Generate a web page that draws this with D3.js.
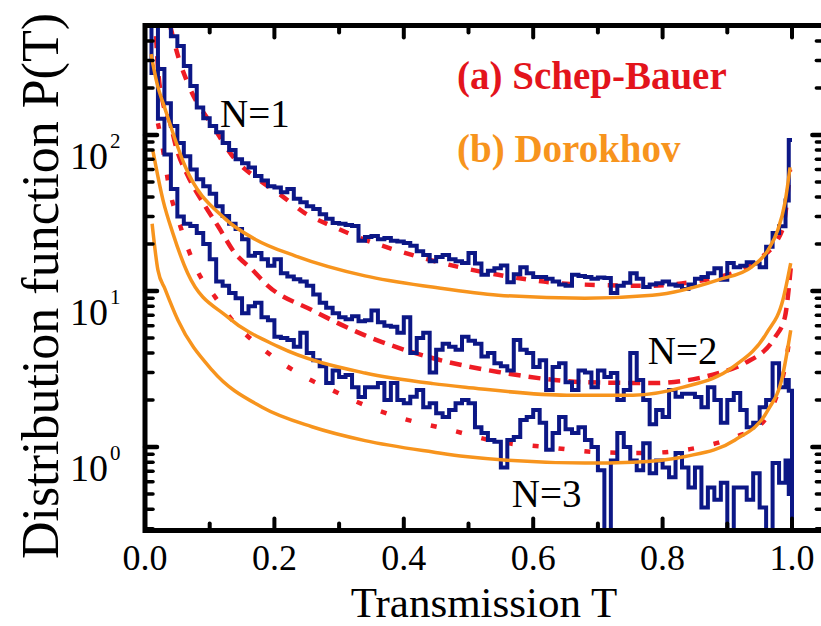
<!DOCTYPE html>
<html><head><meta charset="utf-8">
<script src="https://cdn.jsdelivr.net/npm/d3@7"></script>
<style>html,body{margin:0;padding:0;background:#fff;} svg{display:block;}</style>
</head><body>
<svg id="chart" width="821" height="626"></svg>
<script>
// ---------------- DATA ----------------
// histogram bins: left edges 0.00 .. 0.99 (width 0.01) + a final half bin starting at 0.995
const binStarts = d3.range(100).map(i => +(i / 100).toFixed(2)).concat([0.995]);
const histN1 = [3000,1500,900,600,430,372,277,206,150,128,
  114,104,89,80,70,66,62,54.5,51,47,
  46,43,45,39,37,35,33.6,31,29,27.3,
  27,26.5,26.1,21,22.2,22.5,21.5,21.9,21,20.8,
  20.3,19.5,18,17,15.5,16.5,17,16,15.5,15.1,
  17.5,15,12.7,13.5,14,14.6,11.4,12.8,14.2,13,
  12.3,12.3,12,11.5,11,10.8,12.7,12.5,12.3,12,
  12.2,12.1,9.7,10.8,11.3,13,12,10.6,11,11.2,
  11.5,11,10.8,10.3,11,12,12.3,13,14,11.8,
  15.1,14.2,14.5,15.3,15,14.2,19.2,23.5,26,38,
  93];
const histN2 = [3000,600,265,160,114,89,73,60,52,47,
  42,35,30.3,27,25,21.5,16.8,17.5,16,14.5,
  16,13,12.4,11.9,11.5,10.8,9.5,8.4,7.8,7.2,
  6.8,6.6,6.9,6.4,6.5,7.5,6.3,6.0,5.9,5.4,
  6.8,4.0,5.0,5.4,3.0,4.2,4.6,4.4,4.2,5.1,
  4.8,4.6,3.8,4.0,3.45,3.3,3.1,4.85,4.2,4.0,
  3.26,3.6,2.32,3.26,3.45,2.6,2.32,3.1,3.0,2.42,
  3.1,2.81,2.98,2.0,2.32,4.0,2.69,2.0,1.4,1.73,
  1.56,2.32,2.1,2.2,2.2,2.09,1.8,2.42,2.0,1.43,
  2.0,2.22,1.73,1.34,1.43,1.8,2.0,3.45,2.42,2.69,
  2.3];
const histN3 = [1000,250,127,75,45,30,27,26.1,23.5,20,
  16,11.5,10.8,9.7,9,7.2,8,8.4,6.8,6.5,
  5.1,5.0,4.85,4.4,5.4,4.0,3.6,3.3,2.57,3.1,
  2.81,2.9,2.42,2.09,2.42,2.42,2.57,2.0,2.57,2.0,
  1.91,2.1,2.32,1.8,1.91,1.65,1.56,1.73,1.91,2.0,
  1.91,1.34,1.23,1.11,1.08,0.74,1.11,1.16,1.49,1.56,
  1.73,1.43,0.96,1.23,1.56,1.3,1.23,1.34,1.11,1.0,
  0.71,0,0.82,1.23,1.0,0.82,0.71,1.06,0.68,0.82,
  0.74,0.64,0.915,0.74,0.55,0.74,0.41,0.55,0.46,0.59,
  0,0.55,0.55,0.46,0.68,0.41,0,0.79,0.59,0.82,
  0.5];
// does the histogram close down to zero at T = 1 ?
const histDrop = [false, true, true];

// Dorokhov (orange solid)
const doroN1T = [0.0093,0.0185,0.031,0.062,0.124,0.170,0.232,0.340,0.444,0.546,0.680,0.784,0.886,0.938,0.963,0.978,0.989,0.997];
const doroN1P = [330,215,147,63,29,21.5,16.8,12.5,10.6,9.4,9.0,9.4,11.8,14.3,18.3,24.6,36.6,62];
const doroN2T = [0.012,0.028,0.043,0.066,0.128,0.206,0.340,0.445,0.495,0.652,0.754,0.832,0.909,0.961,0.986,0.998];
const doroN2P = [80,38,23.5,13.0,6.8,4.4,2.98,2.55,2.42,2.15,2.15,2.42,3.26,5.4,8.8,15.1];
const doroN3T = [0.011,0.020,0.031,0.051,0.104,0.181,0.258,0.340,0.445,0.495,0.680,0.754,0.835,0.912,0.963,0.985,0.998];
const doroN3P = [27,13.6,10.3,6.5,3.1,1.8,1.35,1.1,0.93,0.87,0.79,0.80,0.87,1.11,1.73,2.81,5.6];

// Schep-Bauer (red dashed)
const schepN1T = [0.039,0.051,0.066,0.108,0.139,0.175,0.212,0.247,0.289,0.325,0.397,0.471,0.546,0.657,0.770,0.878,0.947,0.985,0.997];
const schepN1P = [500,321,215,109,70,52,40.6,31.6,26.1,22.5,17.8,14.7,12.7,11.1,10.8,12.1,15.8,24.6,60];
const schepN2T = [0.017,0.020,0.028,0.039,0.049,0.066,0.093,0.113,0.139,0.165,0.190,0.258,0.340,0.444,0.546,0.680,0.784,0.886,0.927,0.974,0.989,0.998];
const schepN2P = [430,270,160,119,81,55,35,26,17.5,13.8,10.8,7.55,5.2,3.72,3.03,2.61,2.57,2.98,3.45,5.07,6.8,14];
const schepN3T = [0.020,0.026,0.039,0.051,0.065,0.082,0.108,0.139,0.175,0.212,0.250,0.289,0.325,0.397,0.471,0.546,0.621,0.696,0.768,0.842,0.917,0.947,0.974,0.989,0.998];
const schepN3P = [119,89,42.5,29,19.4,13.2,9.2,6.2,4.5,3.45,2.77,2.32,1.97,1.53,1.29,1.08,1.0,0.93,0.915,0.97,1.18,1.34,2.0,3.25,5.6];

const xTicks = [0,0.1,0.2,0.3,0.4,0.5,0.6,0.7,0.8,0.9,1.0];
const xLabelTicks = [0,0.2,0.4,0.6,0.8,1.0];
const yDecades = [0,1,2];

const curveLabels = [
  {text:"N=1", T:0.116, P:113},
  {text:"N=2", T:0.777, P:3.4},
  {text:"N=3", T:0.567, P:0.41}
];

// ---------------- STYLE ----------------
const BLUE = "#0c1786", RED = "#ee1c24", ORANGE = "#f7941d";
const FONT = "'Liberation Serif','Times New Roman',serif";

const svg = d3.select("#chart");
const x = d3.scaleLinear().domain([0, 1.05]).range([145, 824.35]);
const y = d3.scaleLog().domain([0.292, 503]).range([530.5, 25.5]);
const [X0, X1] = x.range();
const [Y0, Y1] = y.range();

svg.append("rect").attr("width",821).attr("height",626).attr("fill","#fff");

svg.append("clipPath").attr("id","clip").append("rect")
  .attr("x", X0).attr("y", Y1).attr("width", X1 - X0).attr("height", Y0 - Y1);
const plot = svg.append("g").attr("clip-path","url(#clip)");

const yv = v => v > 0 ? y(v) : Y0 + 30;

// red dashed (under)
const smooth = d3.line().x(d => x(d[0])).y(d => y(d[1])).curve(d3.curveMonotoneX);
const zip = (a, b) => a.map((t, i) => [t, b[i]]);
[[schepN1T, schepN1P, "10,13"], [schepN2T, schepN2P, "12,8"], [schepN3T, schepN3P, "6,20"]]
  .forEach(([t, p, dash]) => {
    plot.append("path").attr("d", smooth(zip(t, p)))
      .attr("fill","none").attr("stroke", RED).attr("stroke-width", 4.5)
      .attr("stroke-dasharray", dash);
  });

// blue histograms
const step = d3.line().x(d => x(d[0])).y(d => yv(d[1])).curve(d3.curveStepAfter);
[histN1, histN2, histN3].forEach((vals, k) => {
  const pts = binStarts.map((t, i) => [t, vals[i]]);
  pts.push([1.0, vals[vals.length - 1]]);
  if (histDrop[k]) pts.push([1.0, 0]);
  plot.append("path").attr("d", step(pts))
    .attr("fill","none").attr("stroke", BLUE).attr("stroke-width", 4)
    .attr("stroke-linejoin","miter");
});

// orange Dorokhov
[[doroN1T, doroN1P], [doroN2T, doroN2P], [doroN3T, doroN3P]].forEach(([t, p]) => {
  plot.append("path").attr("d", smooth(zip(t, p)))
    .attr("fill","none").attr("stroke", ORANGE).attr("stroke-width", 3.5);
});

// ---------------- AXES ----------------
const ax = svg.append("g").attr("stroke","#000").attr("stroke-linecap","round");
xTicks.forEach(t => {
  const major = xLabelTicks.some(v => Math.abs(v - t) < 1e-9);
  const len = major ? 12 : 7;
  ax.append("line").attr("x1", x(t)).attr("x2", x(t)).attr("y1", Y0).attr("y2", Y0 - len).attr("stroke-width", 4);
  ax.append("line").attr("x1", x(t)).attr("x2", x(t)).attr("y1", Y1).attr("y2", Y1 + len).attr("stroke-width", 4);
});
const yMinor = [];
[-1,0,1,2].forEach(d => { for (let m = 2; m <= 9; m++) yMinor.push(m * Math.pow(10, d)); });
yMinor.filter(v => v > y.domain()[0] && v < y.domain()[1]).forEach(v => {
  ax.append("line").attr("x1", X0).attr("x2", X0 + 8).attr("y1", y(v)).attr("y2", y(v)).attr("stroke-width", 3.5);
  ax.append("line").attr("x1", X1).attr("x2", X1 - 8).attr("y1", y(v)).attr("y2", y(v)).attr("stroke-width", 3.5);
});
yDecades.forEach(d => {
  const v = Math.pow(10, d);
  ax.append("line").attr("x1", X0).attr("x2", X0 + 12).attr("y1", y(v)).attr("y2", y(v)).attr("stroke-width", 4.5);
  ax.append("line").attr("x1", X1).attr("x2", X1 - 12).attr("y1", y(v)).attr("y2", y(v)).attr("stroke-width", 4.5);
});
svg.append("rect").attr("x", X0).attr("y", Y1).attr("width", X1 - X0).attr("height", Y0 - Y1)
  .attr("fill","none").attr("stroke","#000").attr("stroke-width", 5);

// tick labels
const fmt = d3.format(".1f");
svg.append("g").selectAll("text").data(xLabelTicks).join("text")
  .attr("x", d => x(d)).attr("y", 570).attr("text-anchor","middle")
  .attr("font-family", FONT).attr("font-size", 36).attr("fill","#000")
  .text(d => fmt(d));
const yl = svg.append("g").attr("font-family", FONT).attr("fill","#000");
yDecades.forEach(d => {
  const ty = y(Math.pow(10, d));
  yl.append("text").attr("x", 108).attr("y", ty + 34).attr("text-anchor","end")
    .attr("font-size", 38).text("10");
  yl.append("text").attr("x", 110).attr("y", ty + 13).attr("text-anchor","start")
    .attr("font-size", 21).text(String(d));
});

// axis titles
svg.append("text").attr("x", 484).attr("y", 616.5).attr("text-anchor","middle")
  .attr("font-family", FONT).attr("font-size", 43).attr("fill","#000").text("Transmission T");
svg.append("text").attr("transform","translate(58,286) rotate(-90)").attr("text-anchor","middle")
  .attr("font-family", FONT).attr("font-size", 52).attr("fill","#000").text("Distribution function P(T)");

// curve labels
svg.append("g").selectAll("text").data(curveLabels).join("text")
  .attr("x", d => x(d.T)).attr("y", d => y(d.P))
  .attr("font-family", FONT).attr("font-size", 39).attr("fill","#000")
  .text(d => d.text);

// legend texts
svg.append("text").attr("x", 457).attr("y", 89).attr("font-family", FONT).attr("font-weight","bold")
  .attr("font-size", 39).attr("fill", "#e3141c").text("(a) Schep-Bauer");
svg.append("text").attr("x", 457).attr("y", 162).attr("font-family", FONT).attr("font-weight","bold")
  .attr("font-size", 39).attr("fill", ORANGE).text("(b) Dorokhov");
</script>
</body></html>
